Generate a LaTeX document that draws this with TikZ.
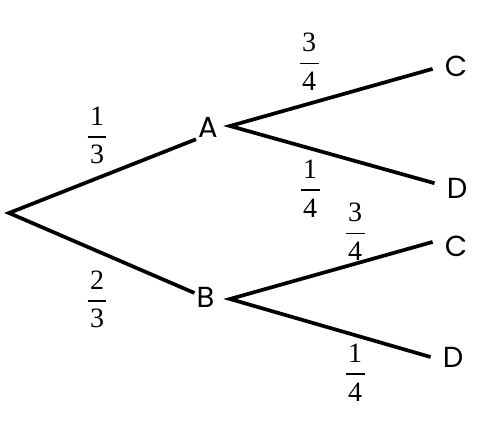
\documentclass[tikz,border=0pt]{standalone}
\usepackage{fontspec}
\setmainfont{Liberation Serif}
\newfontfamily\labfont{Poppins}
\usepackage{tikz}
\usetikzlibrary{calc}

\newcommand{\prob}[2]{\vbox{\offinterlineskip\halign{\hfil##\hfil\cr
  #1\cr\noalign{\kern11pt}\rule{19pt}{1.3pt}\cr\noalign{\kern7.8pt}#2\cr}}}

\begin{document}
\begin{tikzpicture}[x=1pt, y=-1pt,
    event/.style={font=\labfont\fontsize{29}{30}\selectfont, inner sep=2pt},
    leaf/.style={event, inner xsep=12pt},
    frac/.style={font=\fontsize{28}{30}\selectfont, inner sep=0pt},
    branch/.style={line width=3.7pt, line join=miter}]
  \useasboundingbox (0,0) rectangle (499,433);

  % Nodes
  % Root
  \coordinate (root) at (9,213);

  % First stage
  \node[event] (A) at (208,127) {A};
  \node[event] (B) at (205.5,297) {B};
  \coordinate (fa) at (230,126);
  \coordinate (fb) at (230,299);

  % Second stage
  \node[leaf] (C1) at (456,66) {C};
  \node[leaf] (D1) at (457,188) {D};
  \node[leaf] (C2) at (456,246.5) {C};
  \node[leaf] (D2) at (453,357) {D};

  % Probabilities
  \node[frac] (pA) at (97,135.5) {\prob{1}{3}};
  \node[frac] (pB) at (97,299.5) {\prob{2}{3}};
  \node[frac] (pAC) at (309,62) {\prob{3}{4}};
  \node[frac] (pAD) at (310,188.5) {\prob{1}{4}};
  \node[frac] (pBC) at (355,231.5) {\prob{3}{4}};
  \node[frac] (pBD) at (355,372.5) {\prob{1}{4}};

  % Branches
  \draw[branch] (A.south west) -- (root) -- (B.160);

  \draw[branch] (C1.187) -- (fa) -- (D1.168);
  \draw[branch] (C2.169) -- (fb) -- (D2.west);

\end{tikzpicture}
\end{document}
